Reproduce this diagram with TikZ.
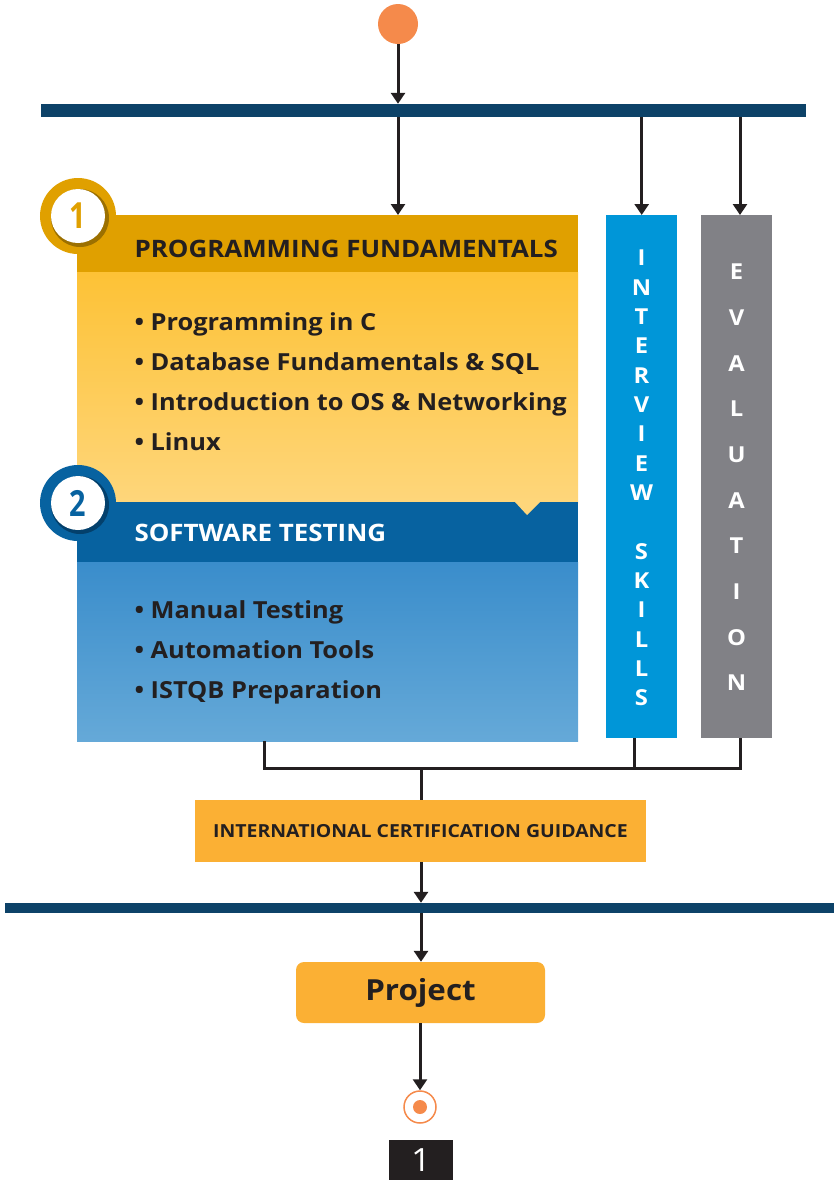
\documentclass[tikz,border=0pt]{standalone}
\usepackage{fontspec}
\setmainfont[FakeStretch=1.08]{Open Sans}
\usetikzlibrary{arrows.meta,positioning}
\definecolor{startorange}{HTML}{F58A4B}
\definecolor{barblue}{HTML}{0D4268}
\definecolor{goldhead}{HTML}{E0A000}
\definecolor{goldshade}{HTML}{9C7000}
\definecolor{goldtop}{HTML}{FDC236}
\definecolor{goldbot}{HTML}{FED67B}
\definecolor{bluehead}{HTML}{0762A0}
\definecolor{blueshade}{HTML}{03406C}
\definecolor{bluetop}{HTML}{3A8DCB}
\definecolor{bluebot}{HTML}{65A9D8}
\definecolor{skillblue}{HTML}{0096D8}
\definecolor{evalgray}{HTML}{818186}
\definecolor{certorange}{HTML}{FBB034}
\definecolor{inkdark}{HTML}{231F20}

\begin{document}
\begin{tikzpicture}[x=1bp, y=-1bp,
    panel/.style={rectangle, inner sep=0pt, anchor=north west},
    flow/.style={line width=3bp, inkdark, -{Triangle[width=14bp,length=11bp]}},
    wire/.style={line width=3bp, inkdark},
    head/.style={anchor=base west, font=\fontsize{24bp}{26bp}\selectfont\bfseries},
    item/.style={anchor=base west, inkdark, font=\fontsize{23.5bp}{26bp}\selectfont\bfseries},
    letter/.style={text=white, font=\fontsize{22bp}{24bp}\selectfont\bfseries},
    badgenum/.style={circle, fill=white, minimum size=54bp, inner sep=0pt, font=\fontsize{36bp}{38bp}\selectfont\bfseries\addfontfeatures{FakeStretch=0.8}}]
\useasboundingbox (0,0) rectangle (835,1180);

% start and top bar
\node[circle, fill=startorange, minimum size=40bp, inner sep=0pt] (start) at (398,24) {};
\node[rectangle, fill=barblue, minimum width=765bp, minimum height=13bp, inner sep=0pt] (bartop) at (423.5,110.5) {};

% module 1
\node[panel, fill=goldhead, minimum width=501bp, minimum height=58bp] (head1) at (77,215) {};
\node[panel, top color=goldtop, bottom color=goldbot, minimum width=501bp, minimum height=231bp] (body1) at (77,272) {};
\node[head, inkdark] (title1) at (131,257) {PROGRAMMING FUNDAMENTALS};
\foreach \txt [count=\i] in {Programming in C, Database Fundamentals \& SQL, Introduction to OS \& Networking, Linux}
  \node[item] (p\i) at (131,290+40*\i) {\textbullet\ \txt};

% module 2
\node[panel, fill=bluehead, minimum width=501bp, minimum height=60bp] (head2) at (77,502) {};
\node[panel, top color=bluetop, bottom color=bluebot, minimum width=501bp, minimum height=179bp] (body2) at (77,562) {};
\fill[goldbot] (515,502) -- (540,502) -- (527,515) -- cycle;
\node[head, white] (title2) at (131,541) {SOFTWARE TESTING};
\foreach \txt [count=\i] in {Manual Testing, Automation Tools, ISTQB Preparation}
  \node[item] (s\i) at (131,578+40*\i) {\textbullet\ \txt};

% number badges
\node[circle, fill=goldhead, minimum size=76bp, inner sep=0pt] (badge1) at (78,216) {};
\fill[goldshade] (80,218) circle (29);
\node[badgenum, text=goldhead] (num1) at (78,216) {1};
\node[circle, fill=bluehead, minimum size=76bp, inner sep=0pt] (badge2) at (78,503) {};
\fill[blueshade] (80,505) circle (29);
\node[badgenum, text=bluehead] (num2) at (78,503) {2};

% side columns
\node[panel, fill=skillblue, minimum width=71bp, minimum height=523bp] (skills) at (606,215) {};
\node[panel, fill=evalgray, minimum width=71bp, minimum height=523bp] (evals) at (701,215) {};
\foreach \ch [count=\i] in {I,N,T,E,R,V,I,E,W,{},S,K,I,L,L,S}
  \node[letter] (k\i) at (641.5,258+29.33*\i-29.33) {\ch};
\foreach \ch [count=\i] in {E,V,A,L,U,A,T,I,O,N}
  \node[letter] (e\i) at (736.5,272+45.67*\i-45.67) {\ch};

% arrows from the top
\draw[flow] (start) -- (start |- bartop.north);
\draw[flow] (bartop.south -| start) -- (head1.north -| start);
\draw[flow] (bartop.south -| skills.north) -- (skills.north);
\draw[flow] (bartop.south -| 740,0) -- (evals.north -| 740,0);

% joining the columns
\coordinate (j1) at (264,768);
\coordinate (j2) at (634,768);
\coordinate (j3) at (740,768);
\coordinate (jm) at (421,768);
\draw[wire] (body2.south -| j1) -- (j1) -- (j3) -- (evals.south -| j3);
\draw[wire] (skills.south -| j2) -- (j2);

% certification
\node[rectangle, fill=certorange, minimum width=451bp, minimum height=62bp, inner sep=0pt, text=inkdark, font=\fontsize{18bp}{20bp}\selectfont\bfseries] (cert) at (420.5,831) {INTERNATIONAL CERTIFICATION GUIDANCE};
\draw[wire] (jm) -- (cert.north -| jm);
\node[rectangle, fill=barblue, minimum width=829bp, minimum height=10bp, inner sep=0pt] (barbot) at (419.5,908) {};
\draw[flow] (cert.south -| jm) -- (barbot.north -| jm);

% project and end
\node[rectangle, rounded corners=8bp, fill=certorange, minimum width=249bp, minimum height=61bp, inner sep=0pt, text=inkdark, font=\fontsize{29bp}{31bp}\selectfont\bfseries] (project) at (420.5,992.5) {Project};
\draw[flow] (barbot.south -| jm) -- (project.north -| jm);
\node[circle, draw=startorange, line width=1.5bp, minimum size=32bp, inner sep=0pt] (finish) at (420,1107) {};
\fill[startorange] (finish) circle (7);
\draw[flow] (project.south -| finish) -- (finish.north);

% page number
\node[rectangle, fill=inkdark, minimum width=64bp, minimum height=40bp, inner sep=0pt, text=white, font=\fontsize{32bp}{34bp}\selectfont] (pagenum) at (421,1160) {1};
\end{tikzpicture}
\end{document}
